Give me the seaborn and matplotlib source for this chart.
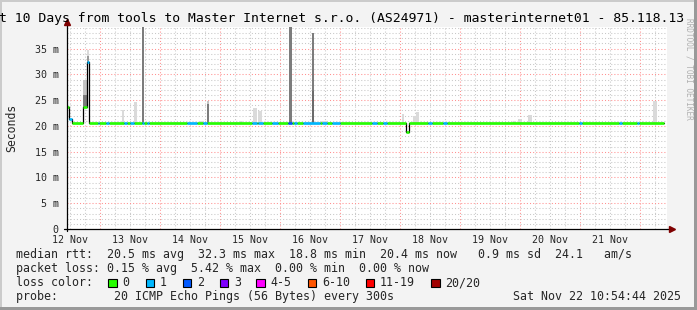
import numpy as np
import pandas as pd
import matplotlib
matplotlib.use("Agg")
import matplotlib.pyplot as plt
import matplotlib.dates as mdates
from matplotlib.ticker import MultipleLocator, FuncFormatter
from matplotlib.patches import Rectangle
import seaborn as sns

# ---------------- data ----------------
START = pd.Timestamp("2025-11-12 10:54:44")
END = pd.Timestamp("2025-11-22 10:54:44")
BASE_MS = 20.5          # typical median rtt (ms)
DATA_END_H = 238.8      # last sample, hours after START

# median segments that leave the baseline: start hour, end hour, median ms, loss class
seg_start_h = [0.0, 0.8, 6.3, 7.9, 135.6]
seg_end_h = [0.8, 1.9, 7.9, 8.9, 136.7]
seg_ms = [23.7, 21.4, 23.7, 32.4, 18.8]
seg_loss = ["0", "1", "0", "1", "0"]

# periods on the baseline with packet loss
loss_start_h = [12.2, 15.8, 22.6, 25.2, 29.8, 32.0, 47.9, 54.5, 73.9, 76.5, 81.9, 88.5,
                90.8, 94.5, 102.0, 105.9, 121.9, 126.5, 144.5, 150.5, 204.8, 220.9, 228.1]
loss_end_h = [12.8, 16.6, 24.0, 26.8, 30.6, 32.6, 51.9, 55.9, 75.9, 78.5, 84.5, 89.9,
              91.9, 101.0, 104.0, 109.2, 123.9, 127.9, 145.9, 151.9, 205.9, 222.0, 228.9]
loss_class = ["1", "1", "1", "1", "1", "1", "1", "1", "1", "1", "1", "2",
              "1", "1", "1", "1", "1", "1", "1", "1", "1", "1", "1"]

# smoke (spread of the 20 pings): start hour, end hour, low ms, high ms, shade
smoke_start_h = [6.3, 6.3, 7.9, 7.9, 21.9, 26.8, 29.9, 53.2, 55.9, 55.9, 69.2, 74.5, 76.4,
                 88.8, 97.9, 97.9, 101.0, 133.9, 138.5, 139.6, 178.4, 180.4, 184.4, 229.9, 234.4]
smoke_end_h = [7.9, 7.9, 8.9, 8.9, 22.8, 27.9, 30.8, 54.8, 56.8, 56.8, 70.0, 76.1, 78.0,
               89.9, 98.7, 98.7, 104.0, 134.8, 139.6, 140.9, 179.6, 182.0, 186.0, 230.5, 236.0]
smoke_low = [23.7, 26.0, 32.4, 33.5, 20.5, 20.5, 20.5, 20.5, 20.5, 24.3, 20.5, 20.5, 20.5,
             20.5, 20.5, 26.8, 20.5, 20.5, 20.5, 20.5, 20.5, 20.5, 20.5, 20.5, 20.5]
smoke_high = [26.0, 28.9, 33.5, 34.8, 23.0, 24.7, 40.0, 21.0, 24.3, 24.9, 21.0, 23.4, 22.9,
              40.0, 26.8, 38.1, 21.0, 22.3, 21.9, 22.8, 21.0, 21.4, 22.1, 21.0, 24.8]
smoke_shade = ["dark", "light", "mid", "pale", "pale", "pale", "dark", "pale", "dark", "light",
               "pale", "pale", "pale", "dark", "darker", "dark", "pale", "pale", "pale", "pale",
               "pale", "pale", "pale", "pale", "pale"]

loss_labels = ["0", "1", "2", "3", "4-5", "6-10", "11-19", "20/20"]
loss_colors = ["#26ff00", "#00b8ff", "#0059ff", "#7e00ff", "#ff00ff", "#ff5500", "#ff0000", "#a10000"]

title = "t 10 Days from tools to Master Internet s.r.o. (AS24971) - masterinternet01 - 85.118.13"
line_rtt = "median rtt:  20.5 ms avg  32.3 ms max  18.8 ms min  20.4 ms now   0.9 ms sd  24.1   am/s"
line_loss = "packet loss: 0.15 % avg  5.42 % max  0.00 % min  0.00 % now"
line_probe = "probe:        20 ICMP Echo Pings (56 Bytes) every 300s"
stamp = "Sat Nov 22 10:54:44 2025"

# ---------------- build series ----------------
def hnum(h):
    return mdates.date2num(START + pd.Timedelta(hours=float(h)))

segs = [(s, e, v, l) for s, e, v, l in zip(seg_start_h, seg_end_h, seg_ms, seg_loss)]
segs += [(s, e, BASE_MS, l) for s, e, l in zip(loss_start_h, loss_end_h, loss_class)]
segs.sort(key=lambda t: t[0])
full = []
cur = 0.0
for s, e, v, l in segs:
    if s > cur:
        full.append((cur, s, BASE_MS, "0"))
    full.append((s, e, v, l))
    cur = e
if cur < DATA_END_H:
    full.append((cur, DATA_END_H, BASE_MS, "0"))

rows = []
for i, (s, e, v, l) in enumerate(full):
    rows.append({"t": hnum(s), "ms": v, "seg": i, "loss": l})
    rows.append({"t": hnum(e), "ms": v, "seg": i, "loss": l})
med = pd.DataFrame(rows)

# ---------------- figure ----------------
sns.set_style("white")
plt.rcParams["font.family"] = ["DejaVu Sans Mono", "DejaVu Sans"]

W, H = 697, 310
fig = plt.figure(figsize=(W / 100, H / 100), dpi=100, facecolor="#f3f3f3")
ax = fig.add_axes([67 / W, 1 - 229 / H, 600 / W, 202 / H], facecolor="white")

shade_col = {"darker": "#6a6a6a", "dark": "#7c7c7c", "mid": "#9a9a9a", "light": "#c4c4c4", "pale": "#dadada"}
x0 = [hnum(s) for s in smoke_start_h]
wd = [(e - s) / 24 for s, e in zip(smoke_start_h, smoke_end_h)]
ax.bar(x0, np.array(smoke_high) - np.array(smoke_low), bottom=smoke_low, width=wd,
       align="edge", color=[shade_col[s] for s in smoke_shade], linewidth=0, zorder=2)

sns.lineplot(data=med, x="t", y="ms", sort=False, estimator=None, color="black",
             lw=0.9, ax=ax, zorder=3, legend=False)
pal = dict(zip(loss_labels, loss_colors))
sns.lineplot(data=med, x="t", y="ms", hue="loss", units="seg", estimator=None, palette=pal,
             lw=1.9, ax=ax, zorder=4, legend=False, solid_capstyle="butt")

ax.set_xlim(mdates.date2num(START), mdates.date2num(END))
ax.set_ylim(0, 39.2)
ax.set_xlabel("")
ax.set_ylabel("Seconds", fontsize=8.3)
ax.yaxis.set_label_coords(-49 / 600, 0.5)

# grid
ax.xaxis.set_major_locator(mdates.DayLocator())
ax.xaxis.set_minor_locator(mdates.HourLocator(byhour=[0, 6, 12, 18]))
ax.xaxis.set_major_formatter(FuncFormatter(lambda v, p: ""))
ax.xaxis.set_minor_formatter(FuncFormatter(
    lambda v, p: mdates.num2date(v).strftime("%d %b") if mdates.num2date(v).hour == 12 else ""))
ax.yaxis.set_major_locator(MultipleLocator(5))
ax.yaxis.set_minor_locator(MultipleLocator(1))
ax.yaxis.set_major_formatter(FuncFormatter(lambda v, p: "0" if v == 0 else f"{v:g} m"))

dot = (0, (1, 2))
ax.grid(which="minor", axis="both", color="#c8c8c8", ls=dot, lw=0.75, zorder=0)
ax.grid(which="major", axis="both", color="#ff9090", ls=dot, lw=0.75, zorder=0)
ax.set_axisbelow(True)

ax.tick_params(axis="x", which="major", length=2, color="#ff8080", labelsize=7.2)
ax.tick_params(axis="x", which="minor", length=2, color="#b0b0b0", labelsize=7.2, pad=2)
ax.tick_params(axis="y", which="major", length=2, color="#000000", labelsize=7.2, pad=4)
ax.tick_params(axis="y", which="minor", length=0)
for s in ax.spines.values():
    s.set_visible(False)

# axis lines with arrows
ax.plot([-3 / 600, 1 + 3 / 600], [0, 0], color="black", lw=0.9, transform=ax.transAxes, clip_on=False, zorder=6)
ax.plot([0, 0], [-2 / 202, 1 + 3 / 202], color="black", lw=0.9, transform=ax.transAxes, clip_on=False, zorder=6)
ax.plot([1 + 5 / 600], [0], marker=">", ms=4.5, color="#7f0000", mec="#7f0000",
        transform=ax.transAxes, clip_on=False, zorder=7)
ax.plot([0], [1 + 5 / 202], marker="^", ms=4.5, color="#7f0000", mec="#7f0000",
        transform=ax.transAxes, clip_on=False, zorder=7)

# title & watermark
fig.text(-1 / W, 1 - 22 / H, title, fontsize=9.45, ha="left", va="baseline", color="black")
fig.text(689 / W, 1 - 69 / H, "RRDTOOL / TOBI OETIKER", rotation=270, fontsize=5.6,
         color="#b0b0b0", ha="center", va="center")

# legend block
fs = 8.4
fig.text(16 / W, 1 - 254.5 / H, line_rtt, fontsize=fs, va="center", ha="left")
fig.text(16 / W, 1 - 268.5 / H, line_loss, fontsize=fs, va="center", ha="left")
fig.text(16 / W, 1 - 282.5 / H, "loss color:", fontsize=fs, va="center", ha="left")
fig.text(16 / W, 1 - 296.5 / H, line_probe, fontsize=fs, va="center", ha="left")
fig.text(681 / W, 1 - 296.5 / H, stamp, fontsize=fs, va="center", ha="right")

box_x = [108, 145.5, 182.5, 219.5, 256, 307.5, 365.5, 431]
for bx, lab, col in zip(box_x, loss_labels, loss_colors):
    fig.patches.append(Rectangle((bx / W, 1 - 287 / H), 8.5 / W, 8.5 / H, transform=fig.transFigure,
                                 facecolor=col, edgecolor="black", lw=0.8))
    fig.text((bx + 14.5) / W, 1 - 282.5 / H, lab, fontsize=fs, va="center", ha="left")

# frame shading
fig.patches.append(Rectangle((0, 1 - 2 / H), 1, 2 / H, transform=fig.transFigure, color="#cbcbcb", lw=0))
fig.patches.append(Rectangle((0, 0), 2 / W, 1, transform=fig.transFigure, color="#cbcbcb", lw=0))
fig.patches.append(Rectangle((0, 0), 1, 3 / H, transform=fig.transFigure, color="#999999", lw=0))
fig.patches.append(Rectangle((1 - 3 / W, 0), 3 / W, 1, transform=fig.transFigure, color="#999999", lw=0))

fig.savefig("out.png", dpi=100, facecolor=fig.get_facecolor())
